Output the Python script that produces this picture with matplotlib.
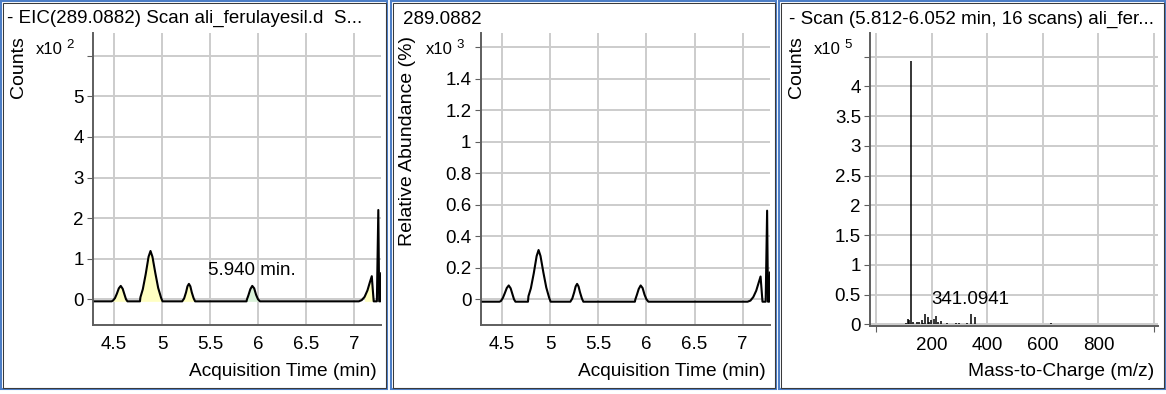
import matplotlib
matplotlib.use("Agg")
import matplotlib.pyplot as plt
from matplotlib.patches import Rectangle
import numpy as np

plt.rcParams['font.family'] = ['Liberation Sans', 'DejaVu Sans']

W, H = 1166, 394

# ---- EIC of m/z 289.0882 (shared time axis) ----
eic_time = [4.30,
            4.475, 4.49, 4.51, 4.53, 4.55, 4.57, 4.59, 4.61, 4.625, 4.64,
            4.77, 4.775, 4.80, 4.83, 4.86, 4.88, 4.90, 4.93, 4.96, 4.99, 5.005,
            5.21, 5.23, 5.25, 5.265, 5.28, 5.295, 5.31, 5.33, 5.345,
            5.88, 5.885, 5.90, 5.92, 5.94, 5.96, 5.98, 6.00, 6.02,
            7.05, 7.08, 7.11, 7.14, 7.165, 7.185, 7.195, 7.205,
            7.238, 7.253, 7.262, 7.274, 7.282]
# counts, x10^2
eic_counts = [-0.05,
              -0.05, -0.03, 0.03, 0.14, 0.27, 0.33, 0.26, 0.11, 0.0, -0.05,
              -0.05, 0.05, 0.25, 0.62, 1.05, 1.19, 1.05, 0.65, 0.28, 0.04, -0.05,
              -0.05, 0.02, 0.17, 0.32, 0.38, 0.32, 0.17, 0.02, -0.05,
              -0.05, 0.0, 0.10, 0.25, 0.33, 0.27, 0.11, 0.0, -0.05,
              -0.05, -0.02, 0.06, 0.22, 0.42, 0.57, 0.25, -0.05,
              -0.05, 2.2, -0.05, -0.05, 0.64]
# relative abundance (%), x10^3
eic_relative = [-0.015,
                -0.015, -0.01, 0.01, 0.04, 0.072, 0.088, 0.07, 0.03, 0.0, -0.015,
                -0.015, 0.02, 0.07, 0.165, 0.275, 0.313, 0.275, 0.17, 0.075, 0.01, -0.015,
                -0.015, 0.005, 0.045, 0.082, 0.098, 0.082, 0.045, 0.005, -0.015,
                -0.015, 0.0, 0.027, 0.066, 0.088, 0.072, 0.03, 0.0, -0.015,
                -0.015, -0.008, 0.015, 0.055, 0.105, 0.145, 0.065, -0.015,
                -0.015, 0.563, -0.015, -0.015, 0.17]
eic_baseline = -0.05

# integrated peak windows: start, end, selected
peak_start = [4.475, 4.77, 5.21, 5.88, 7.10]
peak_end = [4.64, 5.005, 5.345, 6.02, 7.205]
peak_selected = [False, False, False, True, False]
selected_rt = 5.940

# ---- averaged spectrum, 5.812-6.052 min ----
spec_mz = [107, 116, 119, 125, 134, 146, 156, 165, 170, 178, 186, 191, 197,
           208, 217, 224, 233, 256, 289, 297, 326, 341.0941, 357, 427, 436,
           442, 449, 631]
spec_counts = [0.03, 0.10, 0.08, 4.43, 0.045, 0.035, 0.045, 0.07, 0.03, 0.17,
               0.12, 0.04, 0.08, 0.10, 0.14, 0.04, 0.06, 0.03, 0.03, 0.02, 0.03,
               0.17, 0.12, 0.01, 0.01, 0.01, 0.01, 0.03]
labelled_mz = 341.0941

time_ticks = [4.5, 5, 5.5, 6, 6.5, 7]
time_ticklabels = ['4.5', '5', '5.5', '6', '6.5', '7']
counts_ticks = [0, 1, 2, 3, 4, 5, 6]
counts_ticklabels = ['0', '1', '2', '3', '4', '5', '']
rel_ticks = [0, 0.2, 0.4, 0.6, 0.8, 1.0, 1.2, 1.4, 1.6]
rel_ticklabels = ['0', '0.2', '0.4', '0.6', '0.8', '1', '1.2', '1.4', '']
spec_yticks = [0, 0.5, 1, 1.5, 2, 2.5, 3, 3.5, 4, 4.5]
spec_yticklabels = ['0', '0.5', '1', '1.5', '2', '2.5', '3', '3.5', '4', '']
mz_ticks = [200, 400, 600, 800]
mz_ticklabels = ['200', '400', '600', '800']
mz_edges = [0, 1000]

titles = ['- EIC(289.0882) Scan ali_ferulayesil.d  S...',
          '289.0882',
          '- Scan (5.812-6.052 min, 16 scans) ali_fer...']

FS = 13.5
SPINE = '#5e5e5e'
GRID = '#cccccc'

fig = plt.figure(figsize=(W / 100, H / 100), dpi=100)


def fx(x):
    return x / W


def fy(y):
    return 1 - y / H


def add_box(x0, y0, x1, y1, color, lw):
    fig.patches.append(Rectangle((fx(x0), fy(y1)), fx(x1) - fx(x0), fy(y0) - fy(y1),
                                 transform=fig.transFigure, fill=False,
                                 edgecolor=color, linewidth=lw, zorder=0))


def add_axes(left, top, right, bottom):
    return fig.add_axes([fx(left), fy(bottom), (right - left) / W, (bottom - top) / H])


def style(ax, xticks, xlabels, yticks, ylabels):
    ax.set_xticks(xticks)
    ax.set_xticklabels(xlabels)
    ax.set_yticks(yticks)
    ax.set_yticklabels(ylabels)
    for s in ['top', 'right']:
        ax.spines[s].set_visible(False)
    for s in ['left', 'bottom']:
        ax.spines[s].set_color(SPINE)
        ax.spines[s].set_linewidth(1.4)
    ax.tick_params(axis='y', length=4.5, width=0.8, color=SPINE, labelsize=FS, pad=2)
    ax.tick_params(axis='x', which='major', length=0, labelsize=FS, pad=8)


def add_grid(ax, xpos, ypos):
    # light grid behind the data, drawn once the limits are fixed
    ax.vlines(xpos, 0, 1, transform=ax.get_xaxis_transform(),
              color=GRID, linewidth=1.4, zorder=0.6)
    ax.hlines(ypos, 0, 1, transform=ax.get_yaxis_transform(),
              color=GRID, linewidth=1.4, zorder=0.6)


panels = [(0, 388), (390, 777), (778, 1166)]
for x0, x1 in panels:
    add_box(x0 + 1, 1, x1 - 1, 389, '#4d7ec6', 1.5)
    add_box(x0 + 2.5, 2.5, x1 - 2.5, 387.5, '#3a3a3a', 0.75)

t = np.array(eic_time)
c = np.array(eic_counts)
r = np.array(eic_relative)

# ---- panel 1: EIC counts ----
ax1 = add_axes(93, 33, 381, 325)
style(ax1, time_ticks, time_ticklabels, counts_ticks, counts_ticklabels)
ax1.set_xlim(4.281, 7.281)
ax1.set_ylim(-0.633, 6.56)
add_grid(ax1, time_ticks, counts_ticks)
for s, e, sel in zip(peak_start, peak_end, peak_selected):
    m = (t >= s) & (t <= e)
    ax1.fill_between(t[m], c[m], eic_baseline, color='#d9f2d9' if sel else '#ffffc2',
                     linewidth=0, zorder=2)
ax1.plot(t, c, color='black', linewidth=1.5, zorder=3)
ax1.set_xlim(4.281, 7.281)
ax1.set_ylim(-0.633, 6.56)
ax1.text(selected_rt, 0.70, f'{selected_rt:.3f} min.', ha='center', va='center', fontsize=FS)

# ---- panel 2: EIC relative abundance ----
ax2 = add_axes(480.5, 33, 770, 325)
style(ax2, time_ticks, time_ticklabels, rel_ticks, rel_ticklabels)
ax2.set_xlim(4.277, 7.283)
ax2.set_ylim(-0.163, 1.691)
add_grid(ax2, time_ticks, rel_ticks)
ax2.plot(t, r, color='black', linewidth=1.5, zorder=3)
ax2.set_xlim(4.277, 7.283)
ax2.set_ylim(-0.163, 1.691)

# ---- panel 3: mass spectrum ----
ax3 = add_axes(870, 33, 1158, 325.5)
ax3.set_xticks(mz_edges, minor=True)
style(ax3, mz_ticks, mz_ticklabels, spec_yticks, spec_yticklabels)
ax3.tick_params(axis='x', which='minor', length=4, width=0.8, color=SPINE)
ax3.set_xlim(-21.6, 1014.4)
ax3.set_ylim(-0.017, 4.899)
add_grid(ax3, mz_ticks + mz_edges, spec_yticks)
ax3.vlines(spec_mz, 0, spec_counts, color='black', linewidth=1.1, zorder=3)
ax3.set_xlim(-21.6, 1014.4)
ax3.set_ylim(-0.017, 4.899)
ax3.text(labelled_mz, 0.42, f'{labelled_mz:.4f}', ha='center', va='center', fontsize=FS)

# ---- panel texts ----
ylabels = ['Counts', 'Relative Abundance (%)', 'Counts']
xlabels = ['Acquisition Time (min)', 'Acquisition Time (min)', 'Mass-to-Charge (m/z)']
exponents = ['2', '3', '5']
title_x = [7, 403, 789]
title_y = [18, 20, 19]
xlabel_right = [377, 766, 1154]
for i, (x0, x1) in enumerate(panels):
    fig.text(fx(title_x[i]), fy(title_y[i]), titles[i], ha='left', va='center', fontsize=FS)
    fig.text(fx(x0 + 18), fy(36), ylabels[i], rotation=90, ha='center', va='top', fontsize=14)
    fig.text(fx(xlabel_right[i]), fy(372), xlabels[i], ha='right', va='center', fontsize=13.8)
    fig.text(fx(x0 + 36), fy(50), 'x10', ha='left', va='center', fontsize=12)
    fig.text(fx(x0 + 66), fy(45), exponents[i], ha='left', va='center', fontsize=9.5)

fig.savefig('out.png', dpi=100)
